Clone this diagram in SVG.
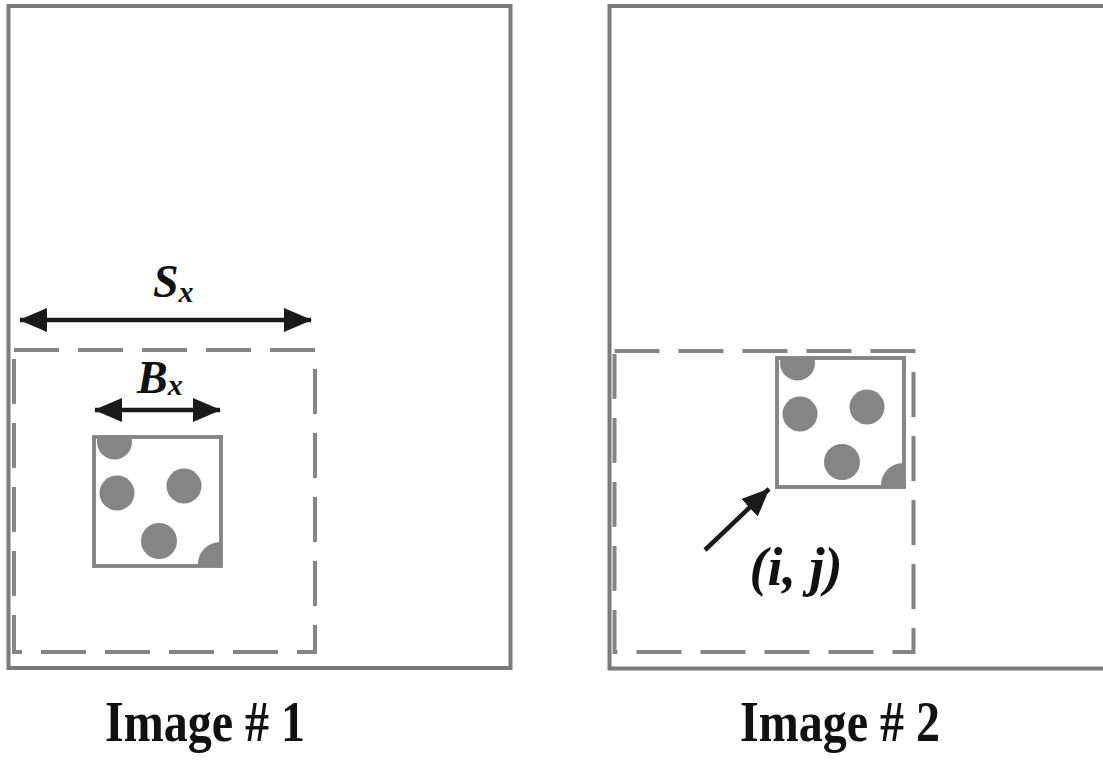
<svg xmlns="http://www.w3.org/2000/svg" xmlns:xlink="http://www.w3.org/1999/xlink" width="1103" height="763" viewBox="0 0 1103 763">
<style>
.frame{fill:none;stroke:#7a7a7a;stroke-width:4}
.dash{fill:none;stroke:#858585;stroke-width:4;stroke-dasharray:45 19}
.patch{fill:#fff;stroke:#858585;stroke-width:3.5}
.dot{fill:#858585}
.arr{stroke:#1a1a1a;stroke-width:4.5;fill:none}
.lbl{font-family:"Liberation Serif","Times New Roman",serif;font-weight:bold;font-style:italic;fill:#111}
.cap{font-family:"Liberation Serif","Times New Roman",serif;font-weight:bold;fill:#111}
</style>
<defs>
<clipPath id="pc"><rect x="0" y="0" width="127" height="129"/></clipPath>
<g id="patchShape">
<rect class="patch" x="0" y="0" width="127" height="129"/>
<g clip-path="url(#pc)">
<circle class="dot" cx="20.5" cy="5" r="17.5"/>
<circle class="dot" cx="126" cy="127" r="22"/>
</g>
<circle class="dot" cx="23" cy="56" r="17.5"/>
<circle class="dot" cx="90" cy="49" r="17.5"/>
<circle class="dot" cx="65" cy="104" r="18"/>
<rect x="0" y="0" width="127" height="129" style="fill:none;stroke:#858585;stroke-width:3.5"/>
</g>
<marker id="ah" viewBox="0 0 28 24" refX="27" refY="12" markerWidth="28" markerHeight="24" markerUnits="userSpaceOnUse" orient="auto-start-reverse">
<path d="M0,0 L28,12 L0,24 Z" fill="#1a1a1a"/>
</marker>
</defs>

<g id="image1">
<rect class="frame" x="8.5" y="6" width="502" height="662"/>
<rect class="dash" x="14" y="350" width="301" height="302"/>
<use xlink:href="#patchShape" href="#patchShape" x="94" y="437"/>
</g>

<g id="image2">
<path class="frame" d="M1105,6 L609.5,6 L609.5,668.5 L1105,668.5"/>
<rect class="dash" x="614.5" y="351" width="299" height="301"/>
<use xlink:href="#patchShape" href="#patchShape" x="777" y="358"/>
</g>

<g id="connectors">
<line class="arr" x1="20" y1="320" x2="311" y2="320" marker-start="url(#ah)" marker-end="url(#ah)"/>
<line class="arr" x1="95" y1="410" x2="220" y2="410" marker-start="url(#ah)" marker-end="url(#ah)"/>
<line class="arr" x1="705" y1="550" x2="769" y2="489" marker-end="url(#ah)"/>
</g>

<g id="labels">
<text class="lbl" x="153" y="297" font-size="46">S<tspan font-size="30" dy="5">x</tspan></text>
<text class="lbl" x="137" y="393" font-size="46">B<tspan font-size="30" dy="2">x</tspan></text>
<text class="lbl" x="796" y="585" font-size="54" text-anchor="middle">(i, j)</text>
<text class="cap" x="205" y="741" font-size="58" text-anchor="middle" textLength="200" lengthAdjust="spacingAndGlyphs">Image # 1</text>
<text class="cap" x="840" y="741" font-size="58" text-anchor="middle" textLength="200" lengthAdjust="spacingAndGlyphs">Image # 2</text>
</g>
</svg>
